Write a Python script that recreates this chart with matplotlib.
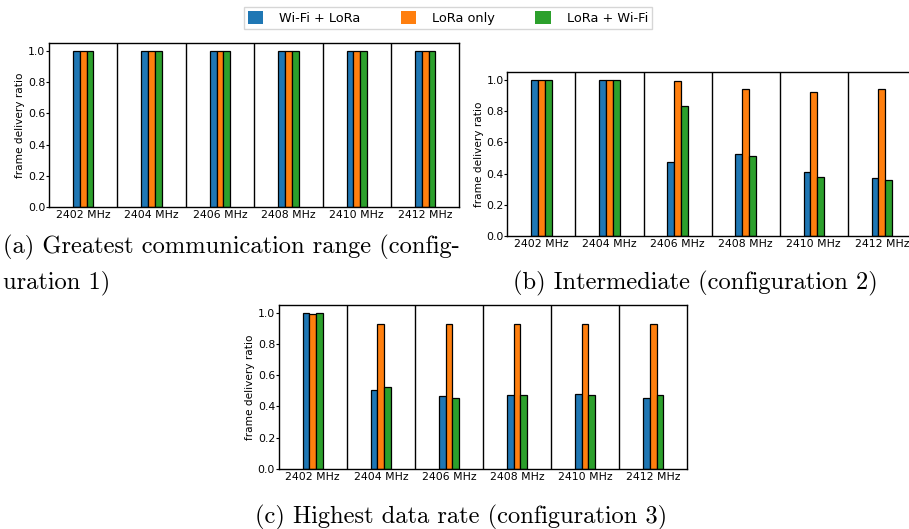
import matplotlib
matplotlib.use("Agg")
import matplotlib.pyplot as plt
from matplotlib.patches import Patch
import numpy as np

freqs = ["2402 MHz", "2404 MHz", "2406 MHz", "2408 MHz", "2410 MHz", "2412 MHz"]
series_names = ["Wi-Fi + LoRa", "LoRa only", "LoRa + Wi-Fi"]
colors = ["#1f77b4", "#ff7f0e", "#2ca02c"]

# configuration 1
c1_wifi_lora = [1.0, 1.0, 1.0, 1.0, 1.0, 1.0]
c1_lora_only = [1.0, 1.0, 1.0, 1.0, 1.0, 1.0]
c1_lora_wifi = [1.0, 1.0, 1.0, 1.0, 1.0, 1.0]
# configuration 2
c2_wifi_lora = [1.0, 1.0, 0.476, 0.524, 0.412, 0.371]
c2_lora_only = [1.0, 1.0, 0.994, 0.944, 0.923, 0.938]
c2_lora_wifi = [1.0, 1.0, 0.830, 0.513, 0.378, 0.356]
# configuration 3
c3_wifi_lora = [1.0, 0.504, 0.468, 0.470, 0.479, 0.455]
c3_lora_only = [0.991, 0.929, 0.929, 0.929, 0.927, 0.927]
c3_lora_wifi = [0.996, 0.521, 0.451, 0.474, 0.474, 0.472]

captions = ["(a) Greatest communication range (config-", "uration 1)",
            "(b) Intermediate (configuration 2)",
            "(c) Highest data rate (configuration 3)"]

W, H = 909, 529
fig = plt.figure(figsize=(W / 100, H / 100), dpi=100)


def px_axes(left, top, width, height):
    return fig.add_axes([left / W, 1 - (top + height) / H, width / W, height / H])


def draw_panel(ax, data):
    x = np.arange(len(freqs))
    bw = 0.1
    for i, (vals, c) in enumerate(zip(data, colors)):
        ax.bar(x + (i - 1) * bw, vals, width=bw, color=c, edgecolor="black",
               linewidth=0.9)
    for k in range(len(freqs) - 1):
        ax.axvline(k + 0.5, color="black", linewidth=1.0)
    ax.set_xlim(-0.5, len(freqs) - 0.5)
    ax.set_ylim(0, 1.05)
    ax.set_yticks([0.0, 0.2, 0.4, 0.6, 0.8, 1.0])
    ax.set_xticks(x)
    ax.set_xticklabels(freqs)
    ax.tick_params(axis="x", length=0, pad=2.5, labelsize=7.8)
    ax.tick_params(axis="y", length=2.0, pad=0.6, labelsize=7.8)
    ax.set_ylabel("frame delivery ratio", fontsize=7.6, labelpad=2)
    for s in ax.spines.values():
        s.set_linewidth(1.0)


ax_a = px_axes(49, 43, 410.4, 164)
draw_panel(ax_a, [c1_wifi_lora, c1_lora_only, c1_lora_wifi])
ax_b = px_axes(507.3, 72, 408.6, 164)
draw_panel(ax_b, [c2_wifi_lora, c2_lora_only, c2_lora_wifi])
ax_c = px_axes(278.7, 305, 408.5, 163.7)
draw_panel(ax_c, [c3_wifi_lora, c3_lora_only, c3_lora_wifi])

# captions
cap_kw = dict(fontfamily="cmr10", fontsize=17.6)
fig.text(3 / W, 1 - 247 / H, captions[0], ha="left", va="center", **cap_kw)
fig.text(3 / W, 1 - 283 / H, captions[1], ha="left", va="center", **cap_kw)
fig.text(695.5 / W, 1 - 283 / H, captions[2], ha="center", va="center", **cap_kw)
fig.text(461.5 / W, 1 - 517 / H, captions[3], ha="center", va="center", **cap_kw)

handles = [Patch(facecolor=c, edgecolor="none", label=n)
           for c, n in zip(colors, series_names)]
fig.legend(handles=handles, loc="center",
           bbox_to_anchor=(244 / W, 1 - 29 / H, 408 / W, 22 / H),
           mode="expand", ncol=3, fontsize=9.3, handlelength=1.2,
           handleheight=1.2, handletextpad=1.24, columnspacing=2.6,
           borderpad=0.3, borderaxespad=0.0,
           frameon=True, fancybox=False, edgecolor="0.8")

fig.savefig("out.png", dpi=100)
